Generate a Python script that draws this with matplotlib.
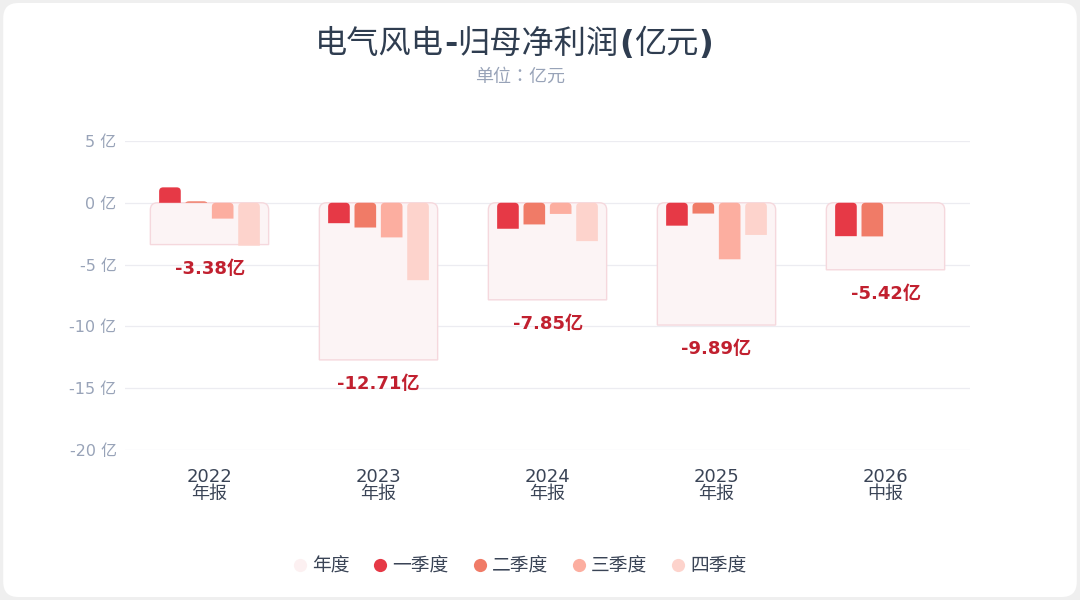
import matplotlib
matplotlib.use('Agg')
import matplotlib.pyplot as plt
from matplotlib.patches import FancyBboxPatch, PathPatch
from matplotlib.path import Path
from matplotlib.lines import Line2D
from matplotlib.offsetbox import TextArea, HPacker, AnnotationBbox
import numpy as np

plt.rcParams['font.family'] = ['DejaVu Sans', 'Noto Sans CJK SC']

categories = ['2022\n年报', '2023\n年报', '2024\n年报', '2025\n年报', '2026\n中报']
annual = [-3.38, -12.71, -7.85, -9.89, -5.42]
q1 = [1.25, -1.65, -2.10, -1.85, -2.70]
q2 = [0.12, -2.00, -1.75, -0.87, -2.72]
q3 = [-1.28, -2.80, -0.90, -4.57, np.nan]
q4 = [-3.47, -6.26, -3.10, -2.60, np.nan]
series_names = ['年度', '一季度', '二季度', '三季度', '四季度']
yticks = [5, 0, -5, -10, -15, -20]
title_parts = [('电气风电', 'normal'), ('-', 'bold'), ('归母净利润', 'normal'),
               ('(', 'bold'), ('亿元', 'normal'), (')', 'bold')]

c_annual = '#fcf4f5'
c_annual_edge = '#f5d8dd'
c_q = ['#e63946', '#f07b67', '#fcaea0', '#fdd3cc']
label_color = '#c1202f'

W, H = 1080, 600
fig = plt.figure(figsize=(W / 100, H / 100), dpi=100)
fig.patch.set_facecolor('#efefef')
bg = FancyBboxPatch((0.003, 0.005), 0.994, 0.99, boxstyle='round,pad=0,rounding_size=0.014',
                    transform=fig.transFigure, facecolor='white', edgecolor='none',
                    mutation_aspect=W / H, zorder=-10)
fig.patches.append(bg)

ax_l, ax_r, ax_b, ax_t = 125 / W, 970 / W, 1 - 450 / H, 1 - 141 / H
ax = fig.add_axes([ax_l, ax_b, ax_r - ax_l, ax_t - ax_b])
ax.set_facecolor('none')
ax.set_xlim(-0.5, 4.5)
ax.set_ylim(-20, 5)
ax.set_yticks(yticks)
ax.set_yticklabels([f'{t} 亿' for t in yticks], color='#98a3b8', fontsize=11.5)
x = np.arange(len(categories))
ax.set_xticks(x)
ax.set_xticklabels(categories, color='#3a4456', fontsize=13, linespacing=0.95)
ax.tick_params(axis='both', length=0)
ax.tick_params(axis='x', pad=13)
ax.tick_params(axis='y', pad=6)
for s in ax.spines.values():
    s.set_visible(False)
ax.grid(axis='y', color='#ececf1', linewidth=0.9, zorder=0)
ax.set_axisbelow(True)

px_x = W * (ax_r - ax_l) / 5.0
px_y = H * (ax_t - ax_b) / 25.0


def round_top(rect, r_px, **kw):
    x0 = rect.get_x()
    w = rect.get_width()
    y0 = rect.get_y()
    h = rect.get_height()
    x1 = x0 + w
    top = max(y0, y0 + h)
    bot = min(y0, y0 + h)
    rx = min(r_px / px_x, w / 2)
    ry = min(r_px / px_y, (top - bot))
    verts = [(x0, bot), (x0, top - ry), (x0, top), (x0 + rx, top),
             (x1 - rx, top), (x1, top), (x1, top - ry), (x1, bot), (x0, bot)]
    codes = [Path.MOVETO, Path.LINETO, Path.CURVE3, Path.CURVE3,
             Path.LINETO, Path.CURVE3, Path.CURVE3, Path.LINETO, Path.CLOSEPOLY]
    p = PathPatch(Path(verts, codes), **kw)
    ax.add_patch(p)
    rect.remove()


ann_bars = ax.bar(x, annual, width=0.70, color=c_annual)
for b in list(ann_bars):
    round_top(b, 7, facecolor=c_annual, edgecolor=c_annual_edge, linewidth=1.0, zorder=2)

bw = 0.128
step = 0.156
for i, (vals, col) in enumerate(zip([q1, q2, q3, q4], c_q)):
    off = (i - 1.5) * step
    vv = np.array(vals, dtype=float)
    mask = ~np.isnan(vv)
    bars = ax.bar(x[mask] + off, vv[mask], width=bw, color=col)
    for b in list(bars):
        round_top(b, 4, facecolor=col, edgecolor='none', zorder=3)

for xi, v in zip(x, annual):
    ax.annotate(f'{v:.2f}亿', xy=(xi, v), xytext=(0, -24), textcoords='offset pixels',
                ha='center', va='center', fontsize=13, fontweight='bold', color=label_color, zorder=5)

# Title: CJK regular, punctuation bold
areas = [TextArea(t, textprops=dict(fontsize=23.2, fontweight=wt, color='#2f3d50'))
         for t, wt in title_parts]
pack = HPacker(children=areas, align='baseline', pad=0, sep=0)
ab = AnnotationBbox(pack, (514 / W, 1 - 44 / H), xycoords='figure fraction',
                    frameon=False, box_alignment=(0.5, 0.5), pad=0)
fig.add_artist(ab)

fig.text(520 / W, 1 - 77 / H, '单位：亿元', ha='center', va='center', fontsize=13,
         color='#98a3b8', family=['Noto Sans CJK TC', 'DejaVu Sans'])

handles = [Line2D([], [], marker='o', linestyle='none', markersize=9.5,
                  markerfacecolor=c, markeredgecolor='none')
           for c in ['#fcf0f1'] + c_q]
leg = fig.legend(handles, series_names, loc='center', bbox_to_anchor=(520 / W, 1 - 566 / H),
                 ncol=5, frameon=False, fontsize=13.5, handletextpad=0.3, columnspacing=1.3,
                 handlelength=0.7)
for t in leg.get_texts():
    t.set_color('#3a4456')

fig.savefig('out.png', dpi=100, facecolor=fig.get_facecolor())
